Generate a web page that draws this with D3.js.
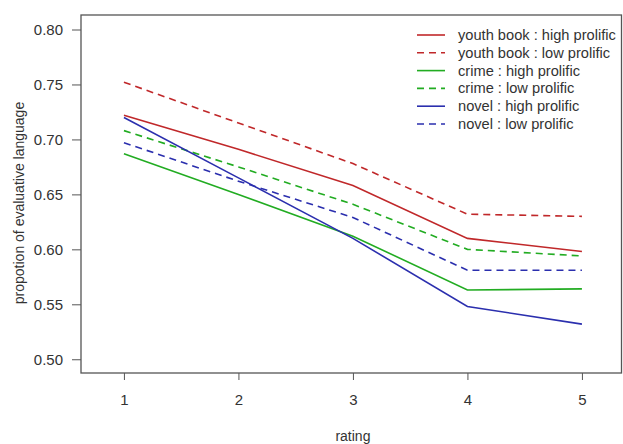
<!DOCTYPE html>
<html>
<head>
<meta charset="utf-8">
<script src="https://cdn.jsdelivr.net/npm/d3@7"></script>
<style>
  body { margin: 0; background: #fff; }
  text { font-family: "Liberation Sans", Arial, sans-serif; fill: #333; }
</style>
</head>
<body>
<div id="chart"></div>
<script>
// ratings on the x axis
var ratings = [1, 2, 3, 4, 5];
var yTicks = [0.50, 0.55, 0.60, 0.65, 0.70, 0.75, 0.80];

var seriesNames = ["youth book : high prolific", "youth book : low prolific",
                   "crime : high prolific", "crime : low prolific",
                   "novel : high prolific", "novel : low prolific"];
var youthHigh = [0.722, 0.691, 0.658, 0.610, 0.598];
var youthLow  = [0.752, 0.715, 0.678, 0.632, 0.630];
var crimeHigh = [0.687, 0.650, 0.612, 0.563, 0.564];
var crimeLow  = [0.708, 0.675, 0.641, 0.600, 0.594];
var novelHigh = [0.720, 0.665, 0.610, 0.548, 0.532];
var novelLow  = [0.697, 0.662, 0.629, 0.581, 0.581];
var seriesColors = ["#c0282a", "#c0282a", "#22ac22", "#22ac22", "#2b2fae", "#2b2fae"];
var seriesDashed = [false, true, false, true, false, true];

var allSeries = [youthHigh, youthLow, crimeHigh, crimeLow, novelHigh, novelLow];

var width = 623, height = 444,
    margin = {top: 15, right: 1, bottom: 71, left: 81};

var svg = d3.select("#chart").append("svg")
    .attr("width", width)
    .attr("height", height);

var x = d3.scaleLinear()
    .domain([0.625, 5.35])
    .range([margin.left, width - margin.right]);

var y = d3.scaleLinear()
    .domain([0.4875, 0.8132])
    .range([height - margin.bottom, margin.top]);

// plot box
svg.append("rect")
    .attr("x", margin.left)
    .attr("y", margin.top)
    .attr("width", width - margin.left - margin.right - 0.5)
    .attr("height", height - margin.top - margin.bottom)
    .attr("fill", "none")
    .attr("stroke", "#555")
    .attr("stroke-width", 1.3);

// y axis
var yAxis = svg.append("g")
    .attr("transform", "translate(" + margin.left + ",0)")
    .call(d3.axisLeft(y).tickValues(yTicks).tickFormat(d3.format(".2f")).tickSize(9).tickPadding(9));
yAxis.select(".domain").remove();
yAxis.selectAll("line").attr("stroke", "#555");
yAxis.selectAll("text").style("font-size", "15px");

// x axis
var xAxis = svg.append("g")
    .attr("transform", "translate(0," + (height - margin.bottom) + ")")
    .call(d3.axisBottom(x).tickValues(ratings).tickFormat(d3.format("d")).tickSize(7).tickPadding(14));
xAxis.select(".domain").remove();
xAxis.selectAll("line").attr("stroke", "#555");
xAxis.selectAll("text").style("font-size", "15px");

// axis titles
svg.append("text")
    .attr("x", x(3))
    .attr("y", 441)
    .attr("text-anchor", "middle")
    .style("font-size", "14px")
    .text("rating");

svg.append("text")
    .attr("transform", "translate(24,203) rotate(-90)")
    .attr("text-anchor", "middle")
    .style("font-size", "14px")
    .text("propotion of evaluative language");

// lines
var line = d3.line()
    .x(function(d, i) { return x(ratings[i]); })
    .y(function(d) { return y(d); });

svg.selectAll(".series")
    .data(allSeries)
    .enter().append("path")
    .attr("class", "series")
    .attr("d", line)
    .attr("fill", "none")
    .attr("stroke", function(d, i) { return seriesColors[i]; })
    .attr("stroke-width", 1.6)
    .attr("stroke-dasharray", function(d, i) { return seriesDashed[i] ? "7,5" : null; });

// legend
var legend = svg.append("g").attr("transform", "translate(417,35)");
var rows = legend.selectAll("g")
    .data(seriesNames)
    .enter().append("g")
    .attr("transform", function(d, i) { return "translate(0," + (i * 17.8) + ")"; });

rows.append("line")
    .attr("x1", 0).attr("x2", 28)
    .attr("stroke", function(d, i) { return seriesColors[i]; })
    .attr("stroke-width", 1.6)
    .attr("stroke-dasharray", function(d, i) { return seriesDashed[i] ? "7,5" : null; });

var labels = rows.append("text")
    .attr("dy", "0.35em")
    .style("font-size", "14px")
    .text(function(d) { return d; });

// the reference's legend text is a bit wider than the font: stretch it to fit
var longest = d3.max(labels.nodes(), function(n) { return n.getComputedTextLength(); });
var sx = Math.min(1.25, 158 / longest);
labels.attr("transform", "translate(41,0) scale(" + sx + ",1)");
</script>
</body>
</html>
